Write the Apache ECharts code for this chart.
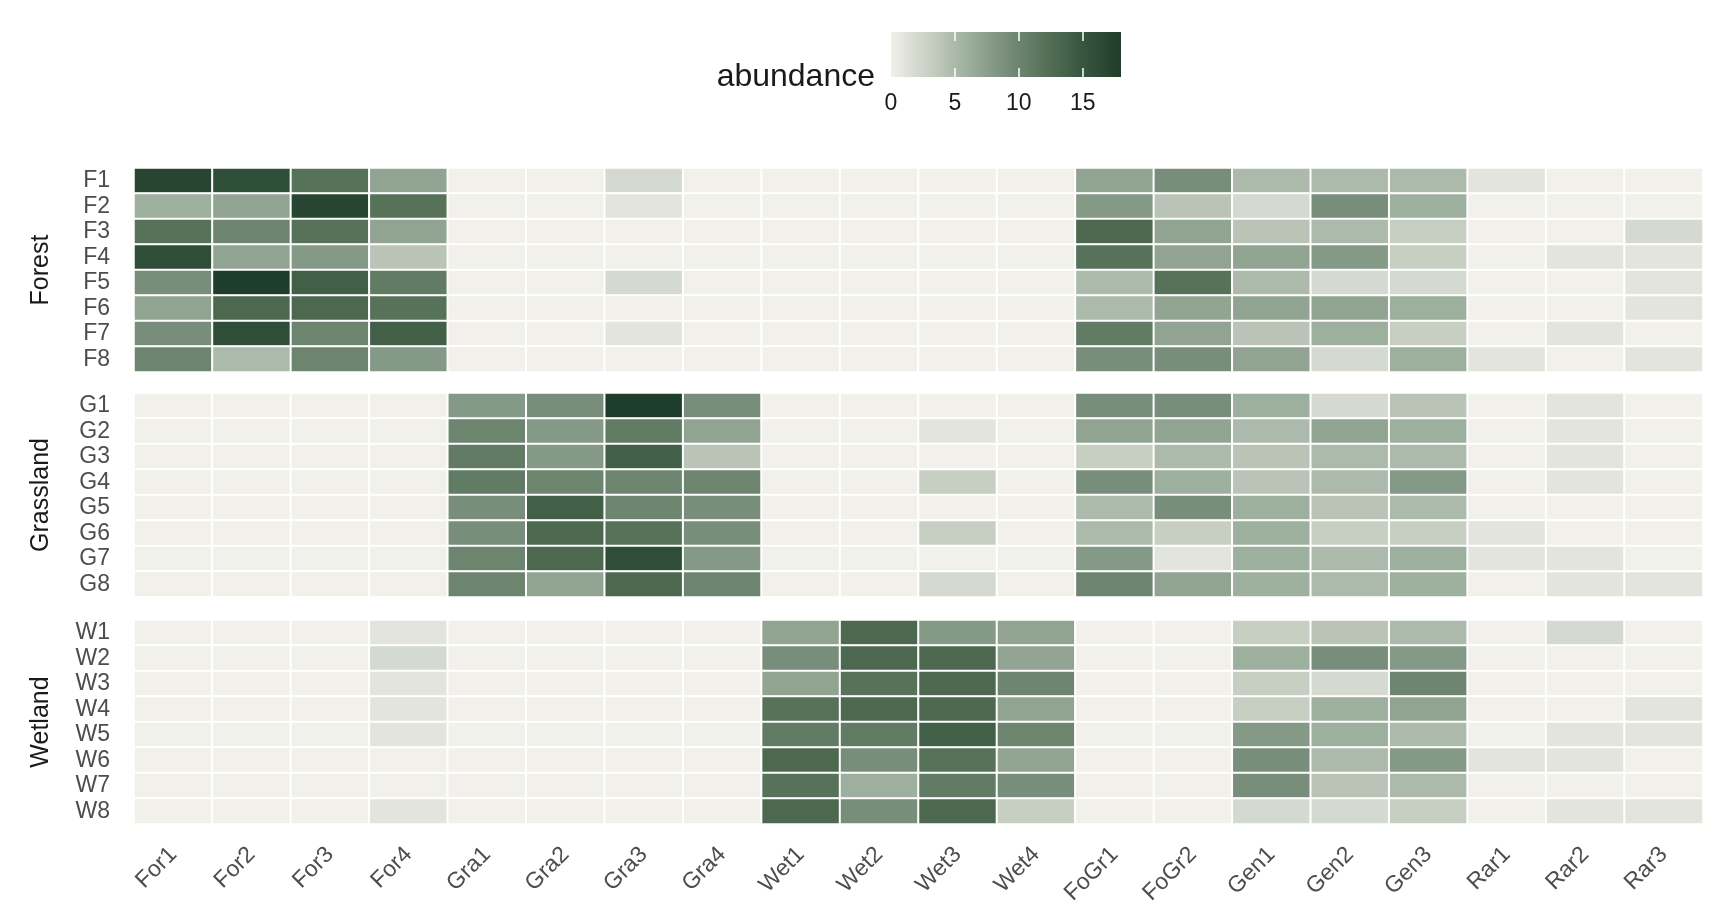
<!DOCTYPE html>
<html>
<head>
<meta charset="utf-8">
<title>abundance heatmap</title>
<script src="https://cdn.jsdelivr.net/npm/echarts@6/dist/echarts.min.js"></script>
<style>
  html, body { margin: 0; padding: 0; background: #fff; }
  #chart { width: 1728px; height: 921px; }
</style>
</head>
<body>
<div id="chart"></div>
<script>
// species (columns)
const species = ['For1', 'For2', 'For3', 'For4', 'Gra1', 'Gra2', 'Gra3', 'Gra4',
  'Wet1', 'Wet2', 'Wet3', 'Wet4', 'FoGr1', 'FoGr2', 'Gen1', 'Gen2', 'Gen3',
  'Rar1', 'Rar2', 'Rar3']

// sites (rows) per habitat
const forestSites = ['F1', 'F2', 'F3', 'F4', 'F5', 'F6', 'F7', 'F8']
const grassSites = ['G1', 'G2', 'G3', 'G4', 'G5', 'G6', 'G7', 'G8']
const wetSites = ['W1', 'W2', 'W3', 'W4', 'W5', 'W6', 'W7', 'W8']

// abundance, one row per site, in species order
const forestValues = [
  [17, 16, 12, 7, 0, 0, 2, 0, 0, 0, 0, 0, 7, 9, 5, 5, 5, 1, 0, 0],
  [6, 7, 17, 12, 0, 0, 1, 0, 0, 0, 0, 0, 8, 4, 2, 9, 6, 0, 0, 0],
  [12, 10, 12, 7, 0, 0, 0, 0, 0, 0, 0, 0, 13, 7, 4, 5, 3, 0, 0, 2],
  [16, 7, 8, 4, 0, 0, 0, 0, 0, 0, 0, 0, 12, 7, 7, 8, 3, 0, 1, 1],
  [9, 18, 14, 11, 0, 0, 2, 0, 0, 0, 0, 0, 5, 12, 5, 2, 2, 0, 0, 1],
  [7, 13, 13, 12, 0, 0, 0, 0, 0, 0, 0, 0, 5, 7, 7, 7, 6, 0, 0, 1],
  [9, 16, 10, 14, 0, 0, 1, 0, 0, 0, 0, 0, 11, 7, 4, 6, 3, 0, 1, 0],
  [10, 5, 10, 8, 0, 0, 0, 0, 0, 0, 0, 0, 9, 9, 7, 2, 6, 1, 0, 1]
]
const grassValues = [
  [0, 0, 0, 0, 8, 9, 18, 9, 0, 0, 0, 0, 9, 9, 6, 2, 4, 0, 1, 0],
  [0, 0, 0, 0, 10, 8, 11, 7, 0, 0, 1, 0, 7, 7, 5, 7, 6, 0, 1, 0],
  [0, 0, 0, 0, 11, 8, 14, 4, 0, 0, 0, 0, 3, 5, 4, 5, 5, 0, 1, 0],
  [0, 0, 0, 0, 11, 10, 10, 10, 0, 0, 3, 0, 9, 6, 4, 5, 8, 0, 1, 0],
  [0, 0, 0, 0, 9, 14, 10, 9, 0, 0, 0, 0, 5, 9, 6, 4, 5, 0, 0, 0],
  [0, 0, 0, 0, 9, 13, 12, 9, 0, 0, 3, 0, 5, 3, 6, 3, 3, 1, 0, 0],
  [0, 0, 0, 0, 10, 13, 16, 8, 0, 0, 0, 0, 8, 1, 6, 5, 6, 1, 1, 0],
  [0, 0, 0, 0, 10, 7, 13, 10, 0, 0, 2, 0, 10, 7, 6, 5, 6, 0, 1, 1]
]
const wetValues = [
  [0, 0, 0, 1, 0, 0, 0, 0, 7, 13, 8, 7, 0, 0, 3, 4, 5, 0, 2, 0],
  [0, 0, 0, 2, 0, 0, 0, 0, 9, 13, 13, 7, 0, 0, 6, 9, 8, 0, 0, 0],
  [0, 0, 0, 1, 0, 0, 0, 0, 7, 12, 13, 10, 0, 0, 3, 2, 10, 0, 0, 0],
  [0, 0, 0, 1, 0, 0, 0, 0, 12, 13, 13, 7, 0, 0, 3, 6, 7, 0, 0, 1],
  [0, 0, 0, 1, 0, 0, 0, 0, 11, 11, 14, 10, 0, 0, 8, 6, 5, 0, 1, 1],
  [0, 0, 0, 0, 0, 0, 0, 0, 13, 9, 12, 7, 0, 0, 9, 5, 8, 1, 1, 0],
  [0, 0, 0, 0, 0, 0, 0, 0, 12, 6, 11, 9, 0, 0, 9, 4, 5, 0, 0, 0],
  [0, 0, 0, 1, 0, 0, 0, 0, 13, 9, 13, 3, 0, 0, 2, 2, 3, 0, 1, 1]
]

// colour bar
const legendMin = 0
const legendMax = 18
const legendTicks = [0, 5, 10, 15]
const palette = ['#f1f0ea', '#c7cfc3', '#9daf9d', '#788e7a', '#567259', '#38563f', '#1e3d2a']

const FONT = '"Liberation Sans", Arial, sans-serif'

function toCells (values) {
  const out = []
  values.forEach((row, r) => {
    row.forEach((v, c) => out.push([c, r, v]))
  })
  return out
}

const panels = [
  { name: 'Forest', rows: forestSites, values: forestValues, top: 168 },
  { name: 'Grassland', rows: grassSites, values: grassValues, top: 393 },
  { name: 'Wetland', rows: wetSites, values: wetValues, top: 620 }
]

const grids = panels.map(p => ({ left: 134, right: 25, top: p.top, height: 204 }))
// legend grid
grids.push({ left: 891, top: 32, width: 230, height: 45 })

const xAxes = panels.map((p, i) => ({
  type: 'category',
  gridIndex: i,
  data: species,
  axisLine: { show: false },
  axisTick: { show: false },
  axisLabel: {
    show: i === panels.length - 1,
    interval: 0,
    rotate: 45,
    margin: 27,
    fontSize: 23,
    fontFamily: FONT,
    color: '#4d4d4d'
  },
  splitLine: { show: false }
}))
// colour bar: bottom axis with labels, top axis only for the white ticks
xAxes.push({
  type: 'value',
  gridIndex: 3,
  position: 'bottom',
  min: legendMin,
  max: legendMax,
  z: 10,
  axisLine: { show: false },
  splitLine: { show: false },
  axisTick: { show: true, inside: true, length: 9, customValues: legendTicks.slice(1), lineStyle: { color: '#fff', width: 1.5 } },
  axisLabel: { customValues: legendTicks, margin: 15, fontSize: 23, fontFamily: FONT, color: '#1a1a1a' }
})
xAxes.push({
  type: 'value',
  gridIndex: 3,
  position: 'top',
  min: legendMin,
  max: legendMax,
  z: 10,
  axisLine: { show: false },
  splitLine: { show: false },
  axisTick: { show: true, inside: true, length: 9, customValues: legendTicks.slice(1), lineStyle: { color: '#fff', width: 1.5 } },
  axisLabel: { show: false }
})

const yAxes = panels.map((p, i) => ({
  type: 'category',
  gridIndex: i,
  data: p.rows,
  inverse: true,
  name: p.name,
  nameLocation: 'middle',
  nameRotate: 90,
  nameGap: 80,
  nameTextStyle: { fontSize: 25, fontFamily: FONT, color: '#1a1a1a' },
  axisLine: { show: false },
  axisTick: { show: false },
  axisLabel: { interval: 0, margin: 24, fontSize: 23, fontFamily: FONT, color: '#4d4d4d' },
  splitLine: { show: false }
}))
yAxes.push({ type: 'value', gridIndex: 3, min: 0, max: 1, show: false })

const series = panels.map((p, i) => ({
  type: 'heatmap',
  name: p.name,
  xAxisIndex: i,
  yAxisIndex: i,
  data: toCells(p.values),
  itemStyle: { borderColor: '#fff', borderWidth: 2 },
  emphasis: { disabled: true }
}))
series.push({
  type: 'custom',
  name: 'abundance',
  xAxisIndex: 3,
  yAxisIndex: 3,
  silent: true,
  z: 1,
  data: [[legendMin, legendMax]],
  renderItem: function (params, api) {
    const p0 = api.coord([api.value(0), 0])
    const p1 = api.coord([api.value(1), 1])
    return {
      type: 'rect',
      shape: { x: p0[0], y: p1[1], width: p1[0] - p0[0], height: p0[1] - p1[1] },
      style: {
        fill: new echarts.graphic.LinearGradient(0, 0, 1, 0,
          palette.map((c, k) => ({ offset: k / (palette.length - 1), color: c })))
      }
    }
  }
})

const myChart = echarts.init(document.getElementById('chart'))
const option = {
  backgroundColor: '#fff',
  animation: false,
  title: {
    text: 'abundance',
    right: 853,
    top: 61,
    padding: 0,
    textStyle: { fontSize: 32, fontWeight: 'normal', fontFamily: FONT, color: '#1a1a1a' }
  },
  visualMap: {
    show: false,
    type: 'continuous',
    min: legendMin,
    max: legendMax,
    seriesIndex: [0, 1, 2],
    inRange: { color: palette }
  },
  grid: grids,
  xAxis: xAxes,
  yAxis: yAxes,
  series: series
}
myChart.setOption(option)
</script>
</body>
</html>
